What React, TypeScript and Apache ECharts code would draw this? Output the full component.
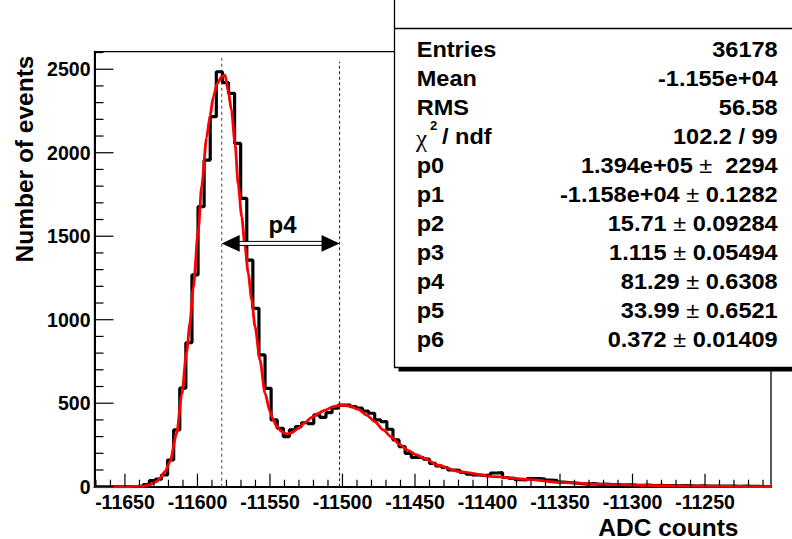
import React, { useEffect, useRef } from 'react';
import * as echarts from 'echarts';

// ---------- data ----------
const X_MIN = -11671;
const X_MAX = -11204.5;
const Y_MAX = 2605;
const BIN_START = -11671;
const BIN_WIDTH = 4.2;

const binCounts = [
  0, 0, 0, 0, 0, 0, 1, 4, 12, 36,
  45, 70, 160, 340, 590, 862, 1268, 1677, 1956, 2216,
  2485, 2420, 2356, 2056, 1727, 1357, 1068, 789, 589, 400,
  350, 300, 340, 360, 383, 378, 430, 415, 443, 470,
  489, 489, 479, 470, 453, 440, 400, 390, 344, 280,
  240, 200, 176, 175, 165, 140, 124, 115, 100, 98,
  85, 75, 70, 68, 66, 82, 84, 55, 50, 42,
  40, 48, 48, 45, 40, 36, 28, 25, 22, 18,
  16, 18, 14, 15, 12, 13, 10, 11, 9, 8,
  10, 7, 8, 6, 7, 5, 6, 5, 4, 5,
  4, 3, 4, 3, 3, 2, 3, 2, 2, 1,
  1,
];

const fitX = [
  -11671, -11650, -11637.6, -11632.8, -11627.9, -11625.9, -11622.4, -11619.0, -11614.3, -11610.9,
  -11607.4, -11605.2, -11602.9, -11599.4, -11597.1, -11593.7, -11591.4, -11589.1, -11586.3, -11583.3,
  -11581.0, -11578.8, -11576.6, -11574.1, -11571.9, -11569.5, -11567.2, -11565.0, -11562.6, -11560.3,
  -11556.9, -11553.4, -11550.0, -11547.7, -11545.4, -11541.9, -11538.5, -11535.0, -11530.5, -11525.9,
  -11521.2, -11516.7, -11512.1, -11506.4, -11500.6, -11494.8, -11489.1, -11483.3, -11477.6, -11471.9,
  -11466.1, -11460.3, -11454.6, -11448.8, -11443.1, -11435.0, -11419.0, -11396.0, -11373.0, -11350.0,
  -11327.2, -11292.8, -11258.3, -11212.1, -11204.5,
];
const fitY = [
  0, 1, 4, 12, 32, 50, 90, 150, 320, 550,
  810, 980, 1190, 1540, 1800, 2090, 2216, 2335, 2416, 2455,
  2465, 2370, 2256, 2056, 1810, 1617, 1437, 1278, 1118, 958,
  759, 560, 450, 400, 360, 330, 316, 323, 350, 383,
  415, 439, 459, 479, 489, 483, 463, 429, 389, 340,
  296, 250, 216, 190, 170, 130, 90, 60, 44, 26,
  16, 8, 4, 1, 1,
];

const P1 = -11583.3;
const P4 = 81.29;
const ARROW_LEVEL = 1457;
const DASH1_TOP = 2575;
const DASH2_TOP = 2545;

const xMajorTicks = [-11650, -11600, -11550, -11500, -11450, -11400, -11350, -11300, -11250];
const xTickLabels = ['-11650', '-11600', '-11550', '-11500', '-11450', '-11400', '-11350', '-11300', '-11250'];
const yMajorTicks = [0, 500, 1000, 1500, 2000, 2500];
const yTickLabels = ['0', '500', '1000', '1500', '2000', '2500'];

const statNames = ['Entries', 'Mean', 'RMS', 'χ2 / ndf', 'p0', 'p1', 'p2', 'p3', 'p4', 'p5', 'p6'];
const statValues = ['36178', '-1.155e+04', '56.58', '102.2 / 99', '1.394e+05', '-1.158e+04', '15.71', '1.115', '81.29', '33.99', '0.372'];
const statErrors = ['', '', '', '', '2294', '0.1282', '0.09284', '0.05494', '0.6308', '0.6521', '0.01409'];
const statErrorGap = ['', '', '', '', '  ', ' ', ' ', ' ', ' ', ' ', ' '];

const FONT = '"Liberation Sans", Arial, Helvetica, sans-serif';

export default function App() {
  const ref = useRef<HTMLDivElement>(null);

  useEffect(() => {
    if (!ref.current) return;
    const chart = echarts.init(ref.current, null, { renderer: 'svg' });

    const histData: number[][] = binCounts.map((c, i) => [BIN_START + i * BIN_WIDTH, c]);
    histData.push([BIN_START + binCounts.length * BIN_WIDTH, binCounts[binCounts.length - 1]]);
    const fitData = fitX.map((x, i) => [x, fitY[i]]);

    chart.setOption({
      animation: false,
      backgroundColor: '#ffffff',
      grid: {
        left: 94.5, right: 21, top: 51.7, bottom: 52.3,
        show: true, borderColor: '#000', borderWidth: 1.3, backgroundColor: 'transparent',
      },
      xAxis: {
        type: 'value', min: X_MIN, max: X_MAX,
        axisLine: { show: true, onZero: false, lineStyle: { color: '#000', width: 2 } },
        axisTick: { show: false }, axisLabel: { show: false }, splitLine: { show: false },
      },
      yAxis: {
        type: 'value', min: 0, max: Y_MAX,
        axisLine: { show: true, lineStyle: { color: '#000', width: 2 } },
        axisTick: { show: false }, axisLabel: { show: false }, splitLine: { show: false },
      },
      series: [
        {
          type: 'line', data: [[P1, 0], [P1, DASH1_TOP]], symbol: 'none', silent: true, z: 1,
          lineStyle: { color: '#707070', width: 1.3, type: [3, 3] },
        },
        {
          type: 'line', data: [[P1 + P4, 0], [P1 + P4, DASH2_TOP]], symbol: 'none', silent: true, z: 1,
          lineStyle: { color: '#303030', width: 1.1, type: [3, 2.5] },
        },
        {
          type: 'line', data: histData, step: 'end', symbol: 'none', silent: true, z: 3,
          lineStyle: { color: '#000', width: 3.2 },
        },
        {
          type: 'line', data: fitData, symbol: 'none', silent: true, z: 4,
          smooth: 0.25, smoothMonotone: 'x',
          lineStyle: { color: '#ff0000', width: 2.8 },
        },
      ],
    });

    const px = (v: number) => chart.convertToPixel({ xAxisIndex: 0 }, v) as number;
    const py = (v: number) => chart.convertToPixel({ yAxisIndex: 0 }, v) as number;

    const g: any[] = [];
    const y0 = py(0);
    const xL = px(X_MIN);
    const tickStyle = { stroke: '#000', lineWidth: 1.2 };

    const txt = (x: number, y: number, text: string, opts: any = {}) => ({
      type: 'text', x, y, silent: true, z: opts.z ?? 20,
      rotation: opts.rotation ?? 0,
      scaleX: opts.scaleX ?? 1,
      style: {
        text,
        fontFamily: opts.fontFamily ?? FONT,
        fontSize: opts.fontSize ?? 19.5,
        fontWeight: opts.fontWeight ?? 'bold',
        fill: '#000',
        align: opts.align ?? 'center', textAlign: opts.align ?? 'center',
        verticalAlign: 'middle', textVerticalAlign: 'middle',
        rich: opts.rich,
      },
    });

    // x ticks
    for (let v = -11670; v < X_MAX; v += 10) {
      const major = xMajorTicks.includes(v);
      const x = px(v);
      g.push({ type: 'line', silent: true, z: 5, shape: { x1: x, y1: y0, x2: x, y2: y0 - (major ? 13 : 7) }, style: tickStyle });
    }
    // y ticks
    for (let v = 0; v < Y_MAX; v += 100) {
      const major = yMajorTicks.includes(v);
      const y = py(v);
      g.push({ type: 'line', silent: true, z: 5, shape: { x1: xL, y1: y, x2: xL + (major ? 19 : 9), y2: y }, style: tickStyle });
    }
    xMajorTicks.forEach((v, i) => g.push(txt(px(v), y0 + 15, xTickLabels[i])));
    yMajorTicks.forEach((v, i) => g.push(txt(xL - 4, py(v), yTickLabels[i], { align: 'right' })));

    // axis titles
    g.push(txt(24.5, 159, 'Number of events', { fontSize: 24.5, rotation: Math.PI / 2 }));
    g.push(txt(738.5, 527, 'ADC counts', { fontSize: 24.5, align: 'right' }));

    // arrow p4
    const xa = px(P1);
    const xb = px(P1 + P4);
    const ya = py(ARROW_LEVEL);
    g.push({ type: 'rect', silent: true, z: 8, shape: { x: xa + 10, y: ya - 2, width: xb - xa - 20, height: 4 }, style: { fill: '#fff', stroke: '#000', lineWidth: 1 } });
    g.push({ type: 'polygon', silent: true, z: 9, shape: { points: [[xa, ya], [xa + 18, ya - 8.3], [xa + 18, ya + 8.3]] }, style: { fill: '#000' } });
    g.push({ type: 'polygon', silent: true, z: 9, shape: { points: [[xb, ya], [xb - 18, ya - 8.3], [xb - 18, ya + 8.3]] }, style: { fill: '#000' } });
    g.push(txt((xa + xb) / 2 + 2, ya - 18.5, 'p4', { fontSize: 24 }));

    // stats box
    const BX = 394.5;
    const BB = 367.5;
    g.push({ type: 'rect', silent: true, z: 30, shape: { x: BX + 4, y: BB, width: 800 - BX, height: 4 }, style: { fill: '#000' } });
    g.push({ type: 'rect', silent: true, z: 31, shape: { x: BX, y: -10, width: 800 - BX, height: BB + 10 }, style: { fill: '#fff', stroke: '#000', lineWidth: 1.3 } });
    g.push({ type: 'line', silent: true, z: 32, shape: { x1: BX, y1: 28.5, x2: 800, y2: 28.5 }, style: { stroke: '#000', lineWidth: 1.3 } });

    const SF = 21.8;
    const SX = 1.08;
    const richStyles = {
      v: { fontFamily: FONT, fontWeight: 'bold', fontSize: SF, fill: '#000' },
      s: { fontFamily: FONT, fontWeight: 'bold', fontSize: SF, fill: '#000' },
      pm: { fontFamily: FONT, fontWeight: 'normal', fontSize: SF, fill: '#000' },
    };
    statNames.forEach((name, i) => {
      const cy = 49.75 + 28.94 * i;
      if (i === 3) {
        g.push(txt(416, cy + 1.5, 'χ', { fontSize: 25, fontWeight: 'normal', fontFamily: '"Liberation Serif", "DejaVu Serif", serif', align: 'left', z: 40 }));
        g.push(txt(430, cy - 11, '2', { fontSize: 13, align: 'left', z: 40 }));
        g.push(txt(442, cy, '/ ndf', { fontSize: SF, align: 'left', scaleX: SX, z: 40 }));
      } else {
        g.push(txt(416.7, cy, name, { fontSize: SF, align: 'left', scaleX: SX, z: 40 }));
      }
      if (statErrors[i]) {
        const t = `{v|${statValues[i]}}{s| }{pm|±}{s|${statErrorGap[i]}}{v|${statErrors[i]}}`;
        g.push(txt(777.7, cy, t, { fontSize: SF, align: 'right', scaleX: SX, z: 40, rich: richStyles }));
      } else {
        g.push(txt(777.7, cy, statValues[i], { fontSize: SF, align: 'right', scaleX: SX, z: 40 }));
      }
    });

    chart.setOption({ graphic: { elements: g } });

    return () => chart.dispose();
  }, []);

  return (
    <div
      ref={ref}
      style={{ position: 'fixed', left: 0, top: 0, width: 792, height: 539, background: '#fff' }}
    />
  );
}
